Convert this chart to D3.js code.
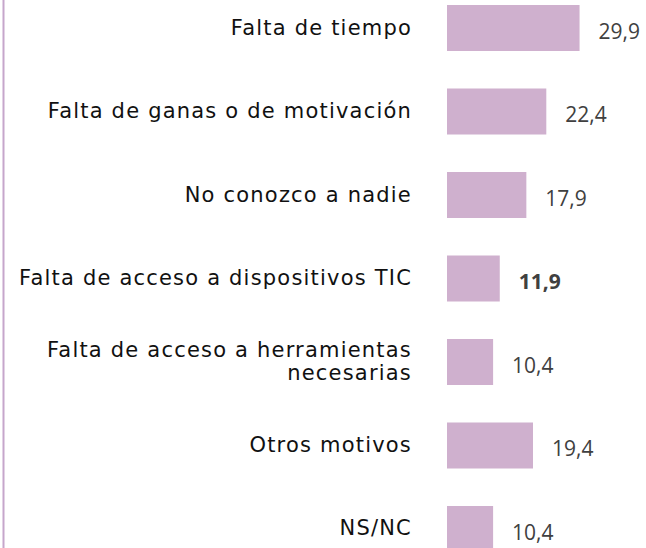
<!DOCTYPE html>
<html>
<head>
<meta charset="utf-8">
<script src="https://cdn.jsdelivr.net/npm/d3@7"></script>
<style>
  html, body { margin: 0; padding: 0; background: #fff; }
</style>
</head>
<body>
<div id="chart"></div>
<script>
// Data
var categories = [
  'Falta de tiempo',
  'Falta de ganas o de motivación',
  'No conozco a nadie',
  'Falta de acceso a dispositivos TIC',
  'Falta de acceso a herramientas\nnecesarias',
  'Otros motivos',
  'NS/NC'
]
var values = [29.9, 22.4, 17.9, 11.9, 10.4, 19.4, 10.4]
var boldLabels = ['Falta de acceso a dispositivos TIC']

var width = 646
var height = 548

var svg = d3.select('#chart')
  .append('svg')
  .attr('width', width)
  .attr('height', height)

// Scales
var x = d3.scaleLinear()
  .domain([0, 30])
  .range([447, 580])

var y = d3.scaleBand()
  .domain(categories)
  .range([5, 552])
  .paddingInner(0.449)
  .paddingOuter(0)

// Left rule
svg.append('line')
  .attr('x1', 3.5)
  .attr('x2', 3.5)
  .attr('y1', 0)
  .attr('y2', height)
  .style('stroke', '#c6a6cb')
  .style('stroke-width', 2)

// Bars
svg.selectAll('.bar')
  .data(categories)
  .enter()
  .append('rect')
  .attr('class', 'bar')
  .attr('x', x(0))
  .attr('y', function (d) { return y(d) })
  .attr('width', function (d, i) { return x(values[i]) - x(0) })
  .attr('height', y.bandwidth())
  .style('fill', '#cfb0ce')

// Category labels (right aligned, may wrap)
var labels = svg.selectAll('.cat')
  .data(categories)
  .enter()
  .append('text')
  .attr('class', 'cat')
  .attr('text-anchor', 'end')
  .attr('font-family', 'DejaVu Sans')
  .attr('font-size', '21px')
  .attr('letter-spacing', '1.2px')
  .attr('fill', '#111')

labels.each(function (d) {
  var lines = d.split('\n')
  var cy = y(d) + y.bandwidth() / 2
  var lh = 23
  var first = cy - (lines.length - 1) * lh / 2 + 6.5
  var t = d3.select(this)
  lines.forEach(function (line, k) {
    t.append('tspan')
      .attr('x', 412)
      .attr('y', first + k * lh)
      .text(line)
  })
})

// Value labels
svg.selectAll('.val')
  .data(categories)
  .enter()
  .append('text')
  .attr('class', 'val')
  .attr('x', function (d, i) { return x(values[i]) + 19 })
  .attr('y', function (d) { return y(d) + y.bandwidth() / 2 + 10.7 })
  .attr('font-family', 'Open Sans')
  .attr('font-size', '21px')
  .attr('font-weight', function (d) { return boldLabels.indexOf(d) >= 0 ? 'bold' : 'normal' })
  .attr('fill', '#404040')
  .text(function (d, i) { return d3.format('.1f')(values[i]).replace('.', ',') })
</script>
</body>
</html>
